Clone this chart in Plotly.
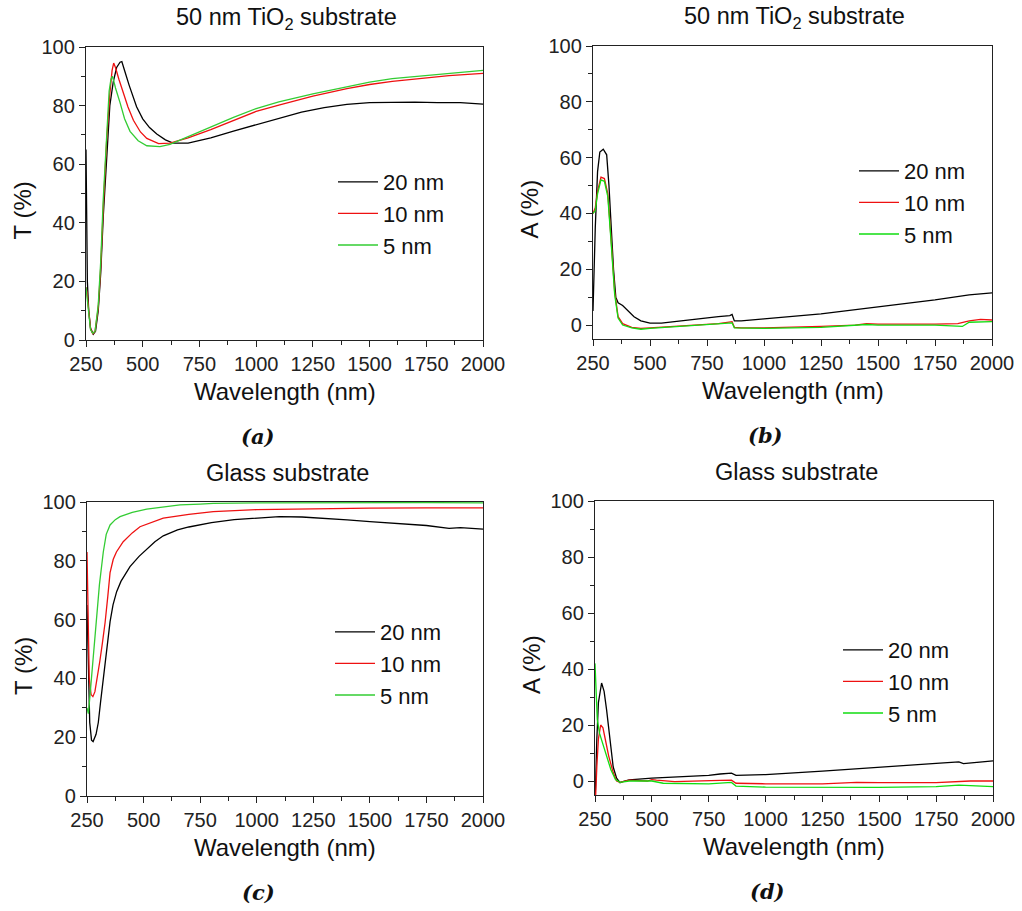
import plotly.graph_objects as go

# ---------------- data ----------------
series_names = ["20 nm", "10 nm", "5 nm"]

# (a) 50 nm TiO2 substrate, transmittance
wl_a_20 = [250, 252, 256, 262, 270, 282, 292, 304, 315, 326, 341, 355, 370, 385, 400, 408, 420, 440, 473, 500, 530, 562, 600, 634, 700, 750, 800, 900, 1000, 1100, 1200, 1300, 1400, 1500, 1600, 1700, 1800, 1900, 2000]
T_a_20 = [65, 40, 20, 10, 4, 2, 3, 10, 23, 42, 64, 80, 88, 93, 94.8, 95, 92, 87, 79.6, 75.5, 72.5, 70.3, 68.3, 67.2, 67.2, 68, 69, 71.3, 73.5, 75.8, 77.8, 79.3, 80.4, 81, 81.2, 81.2, 81, 81, 80.5]
wl_a_10 = [250, 255, 262, 270, 280, 290, 304, 315, 326, 341, 355, 365, 372, 380, 395, 415, 435, 459, 490, 518, 570, 620, 650, 700, 800, 900, 1000, 1100, 1250, 1400, 1500, 1600, 1750, 1850, 2000]
T_a_10 = [18, 16, 10, 4, 2, 3, 11, 25, 45, 68, 84, 92, 94.5, 93, 89, 84.5, 79.5, 75, 71, 68.8, 67, 67.2, 67.8, 69, 71.8, 74.9, 78, 80.2, 83.2, 85.8, 87.2, 88.3, 89.5, 90.2, 91]
wl_a_5 = [250, 255, 262, 270, 280, 290, 304, 315, 326, 341, 352, 360, 366, 372, 380, 400, 420, 444, 480, 518, 576, 620, 650, 700, 800, 900, 1000, 1100, 1250, 1400, 1500, 1600, 1750, 1900, 2000]
T_a_5 = [18, 14, 8, 3.5, 2.3, 3, 12, 27, 48, 72, 85, 89, 90, 88.5, 86, 81, 75.5, 71.2, 68, 66.3, 66, 66.8, 67.8, 69.5, 72.8, 76, 79, 81.3, 84, 86.5, 88, 89.2, 90.3, 91.5, 92]

# (b) 50 nm TiO2 substrate, absorptance
wl_b_20 = [250, 255, 260, 270, 280, 295, 310, 320, 330, 340, 350, 360, 380, 400, 430, 460, 500, 550, 600, 700, 800, 850, 860, 870, 900, 1000, 1250, 1500, 1750, 1900, 2000]
A_b_20 = [5, 20, 35, 55, 62, 63, 61, 50, 35, 20, 10, 8, 7, 5.5, 3, 1.5, 0.7, 0.7, 1.2, 2.2, 3, 3.4, 3.8, 1.5, 1.5, 2.2, 4, 6.5, 9, 10.8, 11.5]
wl_b_10 = [250, 260, 270, 285, 300, 315, 330, 345, 360, 380, 420, 460, 500, 600, 700, 800, 860, 870, 900, 1000, 1250, 1400, 1450, 1500, 1750, 1850, 1900, 1950, 2000]
A_b_10 = [40, 42, 48, 53, 52.5, 47, 30, 12, 3, 0.5, -0.8, -1.2, -1, -0.5, 0.2, 0.5, 1.2, -0.8, -1, -1, -0.5, 0, 0.5, 0.3, 0.3, 0.5, 1.5, 2, 1.8]
wl_b_5 = [250, 260, 270, 285, 300, 315, 330, 345, 360, 380, 420, 460, 500, 600, 700, 800, 860, 870, 1000, 1250, 1450, 1500, 1750, 1870, 1900, 2000]
A_b_5 = [40, 41, 47, 52, 51.5, 46, 29, 11, 2.5, 0, -1, -1.5, -1.2, -0.7, 0, 0.3, 0.8, -1, -1.2, -0.8, 0.2, 0, 0, -0.5, 1, 1.2]

# (c) glass substrate, transmittance
wl_c_20 = [250, 255, 262, 270, 277, 290, 300, 310, 322, 337, 352, 365, 381, 400, 440, 480, 514, 550, 587, 650, 700, 750, 800, 900, 1000, 1100, 1200, 1300, 1400, 1500, 1600, 1750, 1850, 1900, 2000]
T_c_20 = [65, 45, 25, 19, 18.5, 21, 25, 32, 40, 50, 59.3, 65, 69.5, 73, 78, 81.5, 84, 86.5, 88.5, 90.5, 91.5, 92.3, 93, 94, 94.6, 95, 94.9, 94.5, 93.9, 93.3, 92.8, 92, 91, 91.3, 90.8]
wl_c_10 = [250, 255, 260, 268, 276, 285, 295, 307, 318, 330, 342, 352, 366, 380, 410, 450, 484, 540, 587, 700, 808, 1000, 1250, 1500, 1750, 2000]
T_c_10 = [83, 55, 40, 34.5, 33.8, 35.5, 40, 46, 52, 59, 68, 76, 80.5, 83, 86.5, 89.5, 91.6, 93.3, 94.5, 95.8, 96.7, 97.4, 97.7, 97.9, 98, 98]
wl_c_5 = [250, 256, 263, 275, 290, 305, 322, 335, 352, 375, 396, 450, 514, 600, 661, 750, 808, 1000, 1250, 1500, 1750, 2000]
T_c_5 = [30, 28, 34, 45, 58, 72, 83, 89, 92.2, 94, 95, 96.5, 97.6, 98.5, 99, 99.3, 99.5, 99.7, 99.8, 99.8, 99.8, 99.7]

# (d) glass substrate, absorptance
wl_d_20 = [250, 252, 258, 265, 279, 290, 301, 316, 330, 345, 360, 380, 400, 500, 600, 750, 800, 850, 870, 1000, 1250, 1500, 1750, 1850, 1870, 2000]
A_d_20 = [-5, -3, 15, 28, 35, 32, 25.4, 13.5, 5, 1, -0.6, 0, 0.4, 1, 1.4, 2, 2.5, 2.8, 2, 2.3, 3.5, 5, 6.3, 6.8, 6.2, 7.2]
wl_d_10 = [250, 253, 258, 265, 275, 285, 295, 310, 330, 345, 360, 400, 480, 500, 520, 600, 800, 850, 870, 1000, 1250, 1400, 1500, 1750, 1900, 2000]
A_d_10 = [-5, -5, 5, 15, 20, 19, 15, 9, 3, 0, -0.5, 0.3, 0, 0.5, 0.3, -0.2, 0.2, 0.3, -0.8, -1, -1, -0.5, -0.6, -0.6, 0, 0]
wl_d_5 = [250, 255, 260, 270, 285, 300, 320, 340, 360, 400, 500, 550, 750, 850, 870, 1000, 1250, 1500, 1750, 1850, 2000]
A_d_5 = [42, 30, 22, 17, 13, 9, 4, 0.5, -0.5, 0, 0, -0.8, -1, -0.5, -1.8, -2.2, -2.2, -2.3, -2, -1.5, -2]

x_ticks = [250, 500, 750, 1000, 1250, 1500, 1750, 2000]
y_ticks = [0, 20, 40, 60, 80, 100]

titles = ["50 nm TiO<sub>2</sub> substrate", "50 nm TiO<sub>2</sub> substrate",
          "Glass substrate", "Glass substrate"]
ylabels = ["T (%)", "A (%)", "T (%)", "A (%)"]
captions = ["(a)", "(b)", "(c)", "(d)"]

# ---------------- figure ----------------
W, H = 1022, 911
OFF = 0  # body margin removed via post_script
FONT = "Liberation Sans, Arial, sans-serif"

# plot area pixel boxes (left, top, right, bottom) in screen pixels
boxes = [(86, 47, 483, 340), (593, 46, 992, 339), (87, 502, 483, 796), (595, 501, 993, 795)]
yranges = [[0, 100], [-5, 100], [0, 100], [-5, 100]]

panels = [
    [(wl_a_20, T_a_20), (wl_a_10, T_a_10), (wl_a_5, T_a_5)],
    [(wl_b_20, A_b_20), (wl_b_10, A_b_10), (wl_b_5, A_b_5)],
    [(wl_c_20, T_c_20), (wl_c_10, T_c_10), (wl_c_5, T_c_5)],
    [(wl_d_20, A_d_20), (wl_d_10, A_d_10), (wl_d_5, A_d_5)],
]
colors = [
    ["#000000", "#ee1111", "#33cc33"],
    ["#000000", "#ee1111", "#11dd11"],
    ["#000000", "#ee1111", "#33cc33"],
    ["#000000", "#ee1111", "#11dd11"],
]
# legend anchor (left px, top px) in screen pixels
legpos = [(333, 161), (854, 150), (330, 611), (838, 629)]

fig = go.Figure()
layout = dict(width=W, height=H, margin=dict(l=0, r=0, t=0, b=0, autoexpand=False),
              paper_bgcolor="white", plot_bgcolor="white",
              font=dict(family=FONT, color="#111"), showlegend=True)

def px2x(p):
    return (p - OFF) / W

def px2y(p):
    return 1 - (p - OFF) / H

annotations = []
for i in range(4):
    n = "" if i == 0 else str(i + 1)
    l, t, r, b = boxes[i]
    xa = dict(domain=[px2x(l), px2x(r)], range=[250, 2000], tickvals=x_ticks,
              ticks="outside", ticklen=6, tickwidth=1.2, tickcolor="#222",
              showline=True, linecolor="#222", linewidth=1.3, mirror=True,
              showgrid=False, zeroline=False, automargin=False,
              tickfont=dict(size=20, family=FONT, color="#222"),
              minor=dict(dtick=125, tick0=250, ticks="outside", ticklen=3.5, tickwidth=1.1, tickcolor="#222"),
              anchor="y" + n)
    ya = dict(domain=[px2y(b), px2y(t)], range=yranges[i], tickvals=y_ticks,
              ticks="outside", ticklen=6, tickwidth=1.2, tickcolor="#222",
              showline=True, linecolor="#222", linewidth=1.3, mirror=True,
              showgrid=False, zeroline=False, automargin=False,
              tickfont=dict(size=20, family=FONT, color="#222"),
              minor=dict(dtick=10, tick0=0, ticks="outside", ticklen=3.5, tickwidth=1.1, tickcolor="#222"),
              anchor="x" + n)
    layout["xaxis" + n] = xa
    layout["yaxis" + n] = ya
    legname = "legend" + n
    lx, ly = legpos[i]
    layout[legname] = dict(x=px2x(lx), y=px2y(ly), xanchor="left", yanchor="top",
                           bgcolor="rgba(0,0,0,0)", font=dict(size=22, family=FONT, color="#111"),
                           tracegroupgap=0, itemwidth=40)
    for j, (xs, ys) in enumerate(panels[i]):
        fig.add_trace(go.Scatter(x=xs, y=ys, mode="lines", name=series_names[j],
                                 line=dict(color=colors[i][j], width=1.3),
                                 xaxis="x" + n, yaxis="y" + n, legend=legname))
    cx = (l + r) / 2
    # title
    annotations.append(dict(text=titles[i], x=px2x(cx + 2), y=px2y(t - 29), xref="paper", yref="paper",
                            showarrow=False, font=dict(size=23.5, family=FONT, color="#111"),
                            xanchor="center", yanchor="middle"))
    # x title
    annotations.append(dict(text="Wavelength (nm)", x=px2x(cx), y=px2y(b + 51), xref="paper", yref="paper",
                            showarrow=False, font=dict(size=24, family=FONT, color="#111"),
                            xanchor="center", yanchor="middle"))
    # y title
    annotations.append(dict(text=ylabels[i], x=px2x(l - 64), y=px2y((t + b) / 2 + 17), xref="paper", yref="paper",
                            showarrow=False, textangle=-90, font=dict(size=24, family=FONT, color="#111"),
                            xanchor="center", yanchor="middle"))
    # caption
    annotations.append(dict(text="<b><i>" + captions[i] + "</i></b>", x=px2x(cx - 27), y=px2y(b + 96),
                            xref="paper", yref="paper", showarrow=False,
                            font=dict(size=21, family="DejaVu Serif, Liberation Serif, serif", color="#111"),
                            xanchor="center", yanchor="middle"))

layout["annotations"] = annotations
fig.update_layout(**layout)
fig.write_html("out.html", config={"displayModeBar": False},
               post_script="document.body.style.margin='0px';document.body.style.overflow='hidden';")
